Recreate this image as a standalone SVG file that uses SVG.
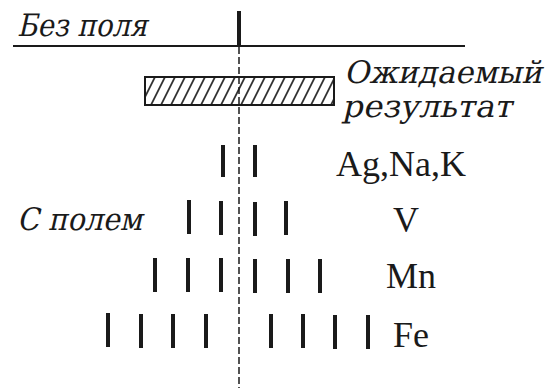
<svg xmlns="http://www.w3.org/2000/svg" width="558" height="390" viewBox="0 0 558 390">
<style>
.it{font-family:"DejaVu Serif","Liberation Serif",serif;font-size:31px;fill:#1a1a1a}
.rg{font-family:"Liberation Serif","Times New Roman",serif;font-size:36px;fill:#1a1a1a}
.bar{fill:#1a1a1a}
</style>
<defs>
<pattern id="hatch" patternUnits="userSpaceOnUse" width="10" height="28" patternTransform="translate(0,77) skewX(-26.57)">
<line x1="5" y1="-1" x2="5" y2="29" stroke="#1a1a1a" stroke-width="1.8"/>
</pattern>
</defs>
<rect width="558" height="390" fill="#fff"/>
<g id="connectors">
<line x1="13" y1="46" x2="465" y2="46" stroke="#1a1a1a" stroke-width="2"/>
<line x1="239" y1="11" x2="239" y2="46" stroke="#1a1a1a" stroke-width="4"/>
<line x1="239" y1="47" x2="239" y2="388" stroke="#1a1a1a" stroke-width="1.5" stroke-dasharray="7,3"/>
</g>
<g id="label-bez-polya"><text class="it" transform="translate(17,36) skewX(-13)" textLength="130" lengthAdjust="spacingAndGlyphs">Без поля</text></g>
<g id="expected">
<rect x="145" y="77" width="189" height="28" fill="url(#hatch)" stroke="#1a1a1a" stroke-width="2"/>
<text class="it" transform="translate(344,83) skewX(-13)" textLength="198" lengthAdjust="spacingAndGlyphs">Ожидаемый</text>
<text class="it" transform="translate(342,117) skewX(-13)" textLength="170" lengthAdjust="spacingAndGlyphs">результат</text>
</g>
<g id="label-s-polem"><text class="it" transform="translate(17,230) skewX(-13)" textLength="125" lengthAdjust="spacingAndGlyphs">С полем</text></g>
<g id="row-agnak">
<rect class="bar" x="221" y="145" width="4" height="32"/>
<rect class="bar" x="253" y="145" width="4" height="32"/>
<text class="rg" x="336" y="176">Ag,Na,K</text>
</g>
<g id="row-v">
<rect class="bar" x="187" y="200" width="4" height="34"/>
<rect class="bar" x="219" y="201" width="4" height="34"/>
<rect class="bar" x="253" y="202" width="4" height="34"/>
<rect class="bar" x="284" y="201" width="4" height="34"/>
<text class="rg" x="393" y="232">V</text>
</g>
<g id="row-mn">
<rect class="bar" x="153" y="258" width="4" height="34"/>
<rect class="bar" x="186" y="258" width="4" height="34"/>
<rect class="bar" x="219" y="258" width="4" height="34"/>
<rect class="bar" x="253" y="259" width="4" height="34"/>
<rect class="bar" x="286" y="259" width="4" height="34"/>
<rect class="bar" x="318" y="259" width="4" height="34"/>
<text class="rg" x="386" y="288">Mn</text>
</g>
<g id="row-fe">
<rect class="bar" x="106" y="313" width="4" height="34"/>
<rect class="bar" x="139" y="314" width="4" height="34"/>
<rect class="bar" x="171" y="314" width="4" height="34"/>
<rect class="bar" x="204" y="314" width="4" height="34"/>
<rect class="bar" x="269" y="314" width="4" height="34"/>
<rect class="bar" x="301" y="314" width="4" height="34"/>
<rect class="bar" x="333" y="315" width="4" height="34"/>
<rect class="bar" x="366" y="315" width="4" height="34"/>
<text class="rg" x="393" y="347">Fe</text>
</g>
</svg>
